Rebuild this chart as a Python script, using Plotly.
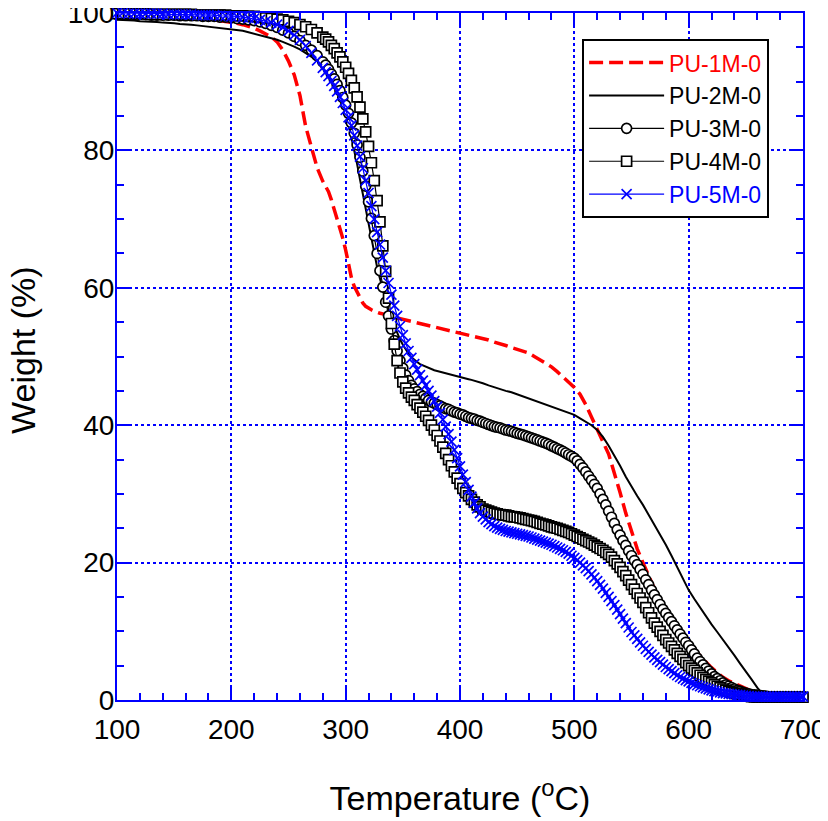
import plotly.graph_objects as go

# Temperature sampling for the line series (deg C)
temperature = (
    [100, 105, 110, 115, 120, 125, 130, 135, 140, 145,
     150, 155, 160, 165, 170, 175, 180, 185, 190, 195,
     200, 205, 210, 215, 220, 225, 230, 235, 240, 245,
     250, 255, 260, 265, 270, 275, 280]
    + [282.5, 285, 287.5, 290, 292.5, 295, 297.5, 300, 302.5, 305,
       307.5, 310, 312.5, 315, 317.5, 320, 322.5, 325, 327.5, 330,
       332.5, 335, 337.5, 340, 342.5, 345, 347.5, 350, 352.5, 355,
       357.5, 360, 362.5, 365, 367.5, 370, 372.5, 375, 377.5, 380,
       382.5, 385, 387.5, 390, 392.5, 395, 397.5, 400, 402.5, 405,
       407.5, 410, 412.5, 415, 417.5, 420]
    + [425, 430, 435, 440, 445, 450, 455, 460, 465, 470,
       475, 480, 485, 490, 495, 500, 505, 510, 515, 520,
       525, 530, 535, 540, 545, 550, 555, 560, 565, 570,
       575, 580, 585, 590, 595, 600, 605, 610, 615, 620,
       625, 630, 635, 640, 645, 650, 655, 660, 665, 670,
       675, 680, 685, 690, 695, 700]
)

# Temperature sampling for the marker series (deg C)
temperature_m = (
    temperature[:93]
    + [422.5, 425, 427.5, 430, 432.5, 435, 437.5, 440, 442.5, 445,
       447.5, 450, 452.5, 455, 457.5, 460, 462.5, 465, 467.5, 470,
       472.5, 475, 477.5, 480, 482.5, 485, 487.5, 490, 492.5, 495,
       497.5, 500, 502.5, 505, 507.5, 510, 512.5, 515, 517.5, 520,
       522.5, 525, 527.5, 530, 532.5, 535, 537.5, 540, 542.5, 545,
       547.5, 550, 552.5, 555, 557.5, 560, 562.5, 565, 567.5, 570,
       572.5, 575, 577.5, 580, 582.5, 585, 587.5, 590, 592.5, 595,
       597.5, 600, 602.5, 605, 607.5, 610, 612.5, 615, 617.5, 620,
       622.5, 625, 627.5, 630, 632.5, 635, 637.5, 640, 642.5, 645,
       647.5, 650, 652.5, 655, 657.5, 660, 662.5, 665, 667.5, 670,
       672.5, 675, 677.5, 680, 682.5, 685, 687.5, 690, 692.5, 695,
       697.5, 700]
)

pu_1m = (
    [99.8, 99.8, 99.8, 99.7, 99.7, 99.7, 99.6, 99.6, 99.6, 99.5,
     99.5, 99.4, 99.4, 99.3, 99.2, 99.2, 99.1, 99.0, 98.9, 98.8,
     98.7, 98.5, 98.3, 98.1, 97.8, 97.4, 97.0, 96.5, 95.8, 94.6,
     93.0, 91.0, 88.0, 83.5, 80.5, 77.5, 75.5]
    + [74.8, 74.0, 72.8, 71.5, 70.2, 68.8, 67.2, 65.5, 63.5, 61.5,
       60.2, 59.3, 58.5, 57.8, 57.3, 57.0, 56.8, 56.6, 56.4, 56.3,
       56.2, 56.0, 55.9, 55.8, 55.7, 55.6, 55.5, 55.4, 55.3, 55.2,
       55.1, 55.0, 54.9, 54.8, 54.8, 54.7, 54.6, 54.5, 54.4, 54.3,
       54.2, 54.1, 54.0, 53.9, 53.8, 53.7, 53.6, 53.5, 53.4, 53.3,
       53.1, 53.0, 52.9, 52.8, 52.7, 52.6]
    + [52.4, 52.1, 51.9, 51.6, 51.3, 51.0, 50.8, 50.5, 50.0, 49.5,
       49.0, 48.5, 47.8, 47.0, 46.3, 45.5, 44.5, 43.0, 41.2, 39.5,
       37.6, 35.8, 33.2, 30.2, 27.2, 24.5, 22.0, 20.0, 18.0, 16.2,
       14.6, 13.1, 11.9, 10.6, 9.6, 8.6, 7.5, 6.4, 5.5, 4.7,
       4.0, 3.3, 2.8, 2.4, 2.0, 1.6, 1.3, 1.1, 0.9, 0.7,
       0.6, 0.6, 0.6, 0.6, 0.6, 0.6]
)

pu_2m = (
    [99.0, 99.0, 98.9, 98.9, 98.8, 98.8, 98.7, 98.7, 98.6, 98.6,
     98.5, 98.4, 98.4, 98.3, 98.2, 98.1, 98.0, 98.0, 97.9, 97.8,
     97.7, 97.5, 97.4, 97.2, 97.0, 96.8, 96.6, 96.4, 96.1, 95.8,
     95.5, 95.1, 94.7, 94.2, 93.7, 93.1, 92.5]
    + [92.1, 91.6, 91.0, 90.2, 89.3, 88.3, 87.0, 85.5, 83.8, 82.0,
       80.0, 78.0, 75.8, 73.6, 71.4, 69.2, 67.0, 64.9, 63.0, 61.3,
       59.7, 58.2, 56.8, 55.5, 54.4, 53.4, 52.5, 51.7, 51.0, 50.4,
       49.9, 49.5, 49.2, 48.9, 48.7, 48.5, 48.3, 48.2, 48.0, 47.9,
       47.8, 47.7, 47.6, 47.5, 47.4, 47.3, 47.2, 47.1, 47.0, 46.9,
       46.7, 46.6, 46.5, 46.4, 46.2, 46.1]
    + [45.8, 45.5, 45.3, 45.0, 44.8, 44.5, 44.3, 44.0, 43.7, 43.4,
       43.1, 42.8, 42.5, 42.2, 41.9, 41.5, 41.0, 40.5, 40.0, 39.3,
       38.3, 37.0, 35.6, 34.1, 32.5, 31.0, 29.7, 28.4, 27.0, 25.6,
       24.1, 22.6, 21.0, 19.3, 17.6, 16.0, 14.7, 13.4, 12.2, 11.0,
       9.9, 8.8, 7.7, 6.5, 5.3, 4.2, 3.0, 1.8, 0.8, 0.5,
       0.5, 0.5, 0.5, 0.5, 0.5, 0.5]
)

pu_3m = (
    [99.8, 99.8, 99.8, 99.8, 99.8, 99.8, 99.7, 99.7, 99.7, 99.7,
     99.7, 99.6, 99.6, 99.6, 99.6, 99.5, 99.5, 99.5, 99.4, 99.4,
     99.3, 99.2, 99.1, 99.0, 98.9, 98.7, 98.5, 98.2, 97.9, 97.5,
     97.1, 96.6, 96.0, 95.3, 94.6, 93.8, 92.9]
    + [92.4, 91.8, 91.1, 90.4, 89.6, 88.7, 87.7, 86.6, 85.4, 84.0,
       82.5, 80.8, 79.0, 77.0, 74.8, 72.5, 70.1, 67.6, 65.0, 62.5,
       60.1, 57.9, 55.9, 54.0, 52.3, 50.8, 49.4, 48.3, 47.3, 46.5,
       45.8, 45.3, 44.9, 44.5, 44.2, 43.9, 43.6, 43.4, 43.2, 43.0,
       42.8, 42.6, 42.4, 42.3, 42.1, 41.9, 41.8, 41.6, 41.5, 41.3,
       41.1, 41.0, 40.9, 40.7, 40.6, 40.4]
    + [40.25, 40.1, 39.95, 39.8, 39.7, 39.6, 39.45, 39.3, 39.2, 39.1,
       38.95, 38.8, 38.7, 38.6, 38.45, 38.3, 38.15, 38.0, 37.85, 37.7,
       37.55, 37.4, 37.2, 37.0, 36.8, 36.6, 36.4, 36.2, 35.95, 35.7,
       35.45, 35.2, 34.8, 34.3, 33.8, 33.2, 32.6, 32.0, 31.4, 30.8,
       30.0, 29.2, 28.4, 27.5, 26.6, 25.7, 24.8, 24.0, 23.2, 22.5,
       21.7, 21.0, 20.3, 19.7, 19.0, 18.3, 17.5, 16.8, 16.0, 15.3,
       14.6, 13.9, 13.2, 12.6, 12.0, 11.4, 10.8, 10.2, 9.6, 9.0,
       8.4, 7.9, 7.3, 6.7, 6.1, 5.6, 5.1, 4.6, 4.2, 3.8,
       3.4, 3.1, 2.8, 2.5, 2.2, 2.0, 1.8, 1.6, 1.4, 1.3,
       1.1, 1.0, 0.9, 0.8, 0.75, 0.7, 0.65, 0.6, 0.55, 0.5,
       0.5, 0.5, 0.5, 0.5, 0.5, 0.5, 0.5, 0.5, 0.5, 0.5,
       0.5, 0.5]
)

pu_4m = (
    [99.9, 99.9, 99.9, 99.9, 99.9, 99.9, 99.8, 99.8, 99.8, 99.8,
     99.8, 99.8, 99.8, 99.8, 99.7, 99.7, 99.7, 99.7, 99.7, 99.7,
     99.6, 99.6, 99.6, 99.5, 99.5, 99.4, 99.3, 99.2, 99.1, 99.0,
     98.8, 98.6, 98.3, 98.0, 97.6, 97.1, 96.5]
    + [96.2, 95.8, 95.3, 94.8, 94.2, 93.6, 92.9, 92.1, 91.2, 90.2,
       89.1, 87.8, 86.3, 84.6, 82.7, 80.6, 78.2, 75.6, 72.7, 69.6,
       66.1, 62.4, 58.5, 54.8, 51.8, 49.4, 47.6, 46.3, 45.4, 44.7,
       44.1, 43.6, 43.0, 42.5, 41.9, 41.3, 40.7, 40.0, 39.3, 38.5,
       37.7, 36.8, 35.9, 35.0, 34.1, 33.2, 32.3, 31.5, 30.8, 30.2,
       29.7, 29.2, 28.8, 28.4, 28.1, 27.8]
    + [27.65, 27.5, 27.35, 27.2, 27.1, 27.0, 26.95, 26.9, 26.8, 26.7,
       26.65, 26.6, 26.5, 26.4, 26.3, 26.2, 26.1, 26.0, 25.85, 25.7,
       25.6, 25.5, 25.35, 25.2, 25.1, 25.0, 24.85, 24.7, 24.55, 24.4,
       24.2, 24.0, 23.8, 23.6, 23.4, 23.2, 23.0, 22.8, 22.55, 22.3,
       22.05, 21.8, 21.5, 21.2, 20.8, 20.3, 19.8, 19.3, 18.7, 18.1,
       17.45, 16.8, 16.15, 15.5, 14.85, 14.2, 13.45, 12.7, 11.95, 11.2,
       10.6, 10.0, 9.4, 8.8, 8.3, 7.8, 7.3, 6.8, 6.35, 5.9,
       5.45, 5.0, 4.65, 4.3, 3.95, 3.6, 3.3, 3.0, 2.75, 2.5,
       2.25, 2.0, 1.8, 1.6, 1.45, 1.3, 1.15, 1.0, 0.9, 0.8,
       0.7, 0.6, 0.55, 0.5, 0.45, 0.4, 0.4, 0.4, 0.4, 0.4,
       0.4, 0.4, 0.4, 0.4, 0.4, 0.4, 0.4, 0.4, 0.4, 0.4,
       0.4, 0.4]
)

pu_5m = (
    [100.0, 100.0, 99.9, 99.9, 99.9, 99.9, 99.9, 99.9, 99.9, 99.8,
     99.8, 99.8, 99.8, 99.8, 99.7, 99.7, 99.7, 99.7, 99.6, 99.6,
     99.5, 99.5, 99.4, 99.3, 99.2, 99.0, 98.8, 98.6, 98.3, 97.9,
     97.4, 96.8, 96.1, 95.2, 94.2, 93.1, 92.0]
    + [91.4, 90.8, 90.1, 89.4, 88.6, 87.8, 86.9, 85.9, 84.8, 83.6,
       82.2, 80.7, 79.1, 77.4, 75.6, 73.8, 71.9, 70.0, 68.1, 66.3,
       64.4, 62.5, 60.7, 59.0, 57.4, 55.9, 54.4, 53.1, 51.9, 50.8,
       49.8, 48.9, 48.1, 47.3, 46.5, 45.8, 45.0, 44.3, 43.5, 42.7,
       41.8, 40.8, 39.8, 38.7, 37.6, 36.4, 35.2, 34.0, 32.8, 31.7,
       30.6, 29.6, 28.7, 27.9, 27.2, 26.7]
    + [26.3, 25.9, 25.6, 25.3, 25.1, 24.9, 24.75, 24.6, 24.5, 24.4,
       24.3, 24.2, 24.1, 24.0, 23.9, 23.8, 23.65, 23.5, 23.35, 23.2,
       23.05, 22.9, 22.75, 22.6, 22.4, 22.2, 22.0, 21.8, 21.55, 21.3,
       21.0, 20.7, 20.35, 20.0, 19.6, 19.2, 18.75, 18.3, 17.8, 17.3,
       16.75, 16.2, 15.6, 15.0, 14.4, 13.8, 13.15, 12.5, 11.85, 11.2,
       10.55, 9.9, 9.4, 8.9, 8.4, 7.9, 7.45, 7.0, 6.6, 6.2,
       5.85, 5.5, 5.15, 4.8, 4.5, 4.2, 3.9, 3.6, 3.35, 3.1,
       2.9, 2.7, 2.5, 2.3, 2.15, 2.0, 1.85, 1.7, 1.55, 1.4,
       1.3, 1.2, 1.1, 1.0, 0.95, 0.9, 0.85, 0.8, 0.75, 0.7,
       0.65, 0.6, 0.55, 0.5, 0.5, 0.5, 0.5, 0.5, 0.5, 0.5,
       0.5, 0.5, 0.5, 0.5, 0.5, 0.5, 0.5, 0.5, 0.5, 0.5,
       0.5, 0.5]
)

series_names = ["PU-1M-0", "PU-2M-0", "PU-3M-0", "PU-4M-0", "PU-5M-0"]
for s in (pu_1m, pu_2m):
    assert len(s) == len(temperature), (len(s), len(temperature))
for s in (pu_3m, pu_4m, pu_5m):
    assert len(s) == len(temperature_m), (len(s), len(temperature_m))

BLUE = "#0000ff"
FONT = "Liberation Sans, Arial, sans-serif"

fig = go.Figure()

fig.add_trace(go.Scatter(
    x=temperature, y=pu_1m, mode="lines", cliponaxis=False,
    name="<span style='color:#ff0000'>%s</span>" % series_names[0],
    line=dict(color="#ff0000", width=3.5, dash="14px,6px"),
))
fig.add_trace(go.Scatter(
    x=temperature, y=pu_2m, mode="lines", cliponaxis=False,
    name=series_names[1],
    line=dict(color="#000000", width=2),
))
fig.add_trace(go.Scatter(
    x=temperature_m, y=pu_3m, mode="lines+markers", cliponaxis=False,
    name=series_names[2],
    line=dict(color="#000000", width=1.2),
    marker=dict(symbol="circle", size=10, color="white",
                line=dict(color="#000000", width=1.7)),
))
fig.add_trace(go.Scatter(
    x=temperature_m, y=pu_4m, mode="lines+markers", cliponaxis=False,
    name=series_names[3],
    line=dict(color="#000000", width=1.2),
    marker=dict(symbol="square", size=10, color="white",
                line=dict(color="#000000", width=1.7)),
))
fig.add_trace(go.Scatter(
    x=temperature_m, y=pu_5m, mode="lines+markers", cliponaxis=False,
    name="<span style='color:#0000ff'>%s</span>" % series_names[4],
    line=dict(color=BLUE, width=1.2),
    marker=dict(symbol="x-thin", size=10, color=BLUE,
                line=dict(color=BLUE, width=1.7)),
))

axis_common = dict(
    showline=True, linecolor=BLUE, linewidth=2, mirror="ticks",
    ticks="inside", ticklen=12, tickwidth=2, tickcolor=BLUE,
    showgrid=True, gridcolor=BLUE, gridwidth=1.5, griddash="dot",
    zeroline=False, automargin=False, ticklabeloverflow="allow",
    tickfont=dict(family=FONT, size=28, color="black"),
)

# The page body adds an 8px offset, margins compensate for it.
fig.update_layout(
    width=828, height=821,
    margin=dict(l=109, r=33, t=5, b=129),
    plot_bgcolor="white", paper_bgcolor="white",
    font=dict(family=FONT, color="black"),
    showlegend=True,
    legend=dict(
        x=0.678, y=0.962, xanchor="left", yanchor="top",
        bgcolor="white", bordercolor="black", borderwidth=2,
        font=dict(family=FONT, size=23, color="black"),
        tracegroupgap=0, itemwidth=75,
    ),
    xaxis=dict(
        range=[100, 700], tick0=100, dtick=100,
        minor=dict(dtick=20, tick0=100, ticks="inside", ticklen=7,
                   tickwidth=2, tickcolor=BLUE, showgrid=False),
        ticklabelstandoff=3,
        title=dict(text="Temperature (<sup>o</sup>C)", standoff=43,
                   font=dict(family=FONT, size=34, color="black")),
        **axis_common,
    ),
    yaxis=dict(
        range=[0, 100], tick0=0, dtick=20,
        minor=dict(dtick=5, tick0=0, ticks="inside", ticklen=7,
                   tickwidth=2, tickcolor=BLUE, showgrid=False),
        ticklabelstandoff=-5,
        **axis_common,
    ),
    annotations=[dict(
        text="Weight (%)", textangle=-90, showarrow=False,
        xref="paper", yref="paper", x=-0.138, y=0.51,
        xanchor="center", yanchor="middle",
        font=dict(family=FONT, size=34, color="black"),
    )],
)

fig.write_html("out.html")
